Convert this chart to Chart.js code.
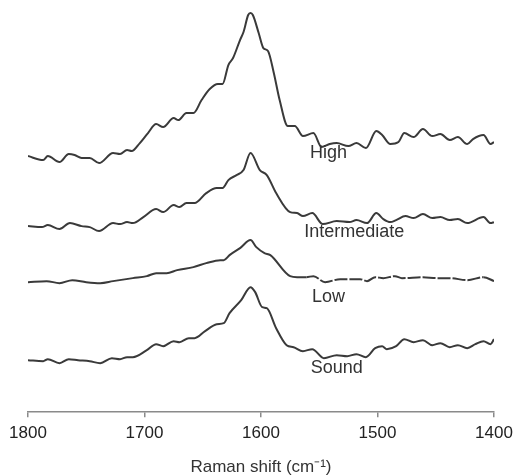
<!DOCTYPE html>
<html>
<head>
<meta charset="utf-8">
<script src="https://cdn.jsdelivr.net/npm/chart.js@4/dist/chart.umd.min.js"></script>
<style>
  html, body { margin: 0; padding: 0; background: #fff; }
  #wrap { width: 516px; height: 475px; }
</style>
</head>
<body>
<div id="wrap"><canvas id="raman"></canvas></div>
<script>
// spectra: Raman shift (cm-1) and stacked intensity (a.u.)
const highShift = [1800,1787,1783,1773,1765,1760,1754,1747,1739,1727,1721,1715,1711,1704,1697,1690,1684,1675,1671,1664,1658,1651,1644,1637,1633,1628,1624,1618,1615,1611,1609,1607,1602,1598,1594,1589,1584,1577,1571,1564,1555,1548,1541,1535,1525,1518,1510,1501,1496,1489,1482,1477,1469,1461,1453,1446,1438,1431,1423,1418,1409,1403,1400]
const highInt   = [256,252,256,250,258,257,254,254,249,259,258,262,261,269,279,288,285,294,292,299,299,312,323,328,328,347,354,372,380,397,399,397,379,364,361,339,312,286,286,276,279,265,268,269,266,269,264,281,277,268,270,279,275,283,276,278,272,275,268,273,277,268,270]

const interShift = [1800,1788,1783,1773,1764,1754,1747,1739,1727,1721,1715,1710,1701,1690,1684,1675,1670,1664,1657,1647,1638,1633,1628,1621,1615,1609,1601,1595,1587,1575,1569,1564,1556,1547,1535,1524,1518,1509,1501,1495,1489,1484,1476,1469,1461,1453,1446,1438,1431,1423,1409,1403,1400]
const interInt   = [186,185,187,183,189,186,185,181,189,188,190,189,195,203,200,207,205,209,209,219,224,224,232,237,242,259,242,237,219,200,199,196,199,188,191,190,192,189,199,193,190,192,196,194,198,194,195,192,193,189,195,189,190]

const lowShift = [1800,1784,1773,1762,1750,1738,1727,1710,1698,1690,1681,1672,1658,1647,1635,1632,1627,1618,1609,1604,1597,1592,1575,1569,1561,1555,1545,1532,1515,1509,1502,1495,1485,1479,1461,1449,1438,1423,1409,1400]
const lowInt   = [130,131,129,132,130,129,131,134,136,139,139,142,145,149,152,152,157,164,172,165,159,157,136,135,135,136,130,133,133,131,135,134,136,134,135,134,134,132,135,131]

const soundShift = [1800,1787,1783,1773,1765,1757,1747,1738,1728,1721,1715,1710,1698,1690,1684,1675,1670,1662,1657,1648,1638,1632,1627,1617,1609,1605,1599,1595,1587,1578,1572,1564,1556,1546,1535,1526,1518,1510,1502,1496,1492,1484,1477,1469,1461,1453,1446,1438,1431,1423,1416,1409,1403,1400]
const soundInt   = [52,51,53,49,53,52,51,49,54,53,55,55,62,68,66,71,70,74,74,81,88,89,99,112,125,120,105,104,84,67,65,61,63,54,57,56,58,55,64,66,63,66,73,70,72,67,69,65,67,64,68,71,68,73]

// curve names and where their captions sit
const curveNames = ['High', 'Intermediate', 'Low', 'Sound']
const labelShift = [1542, 1520, 1542, 1535]
const labelLevel = [259, 180, 115, 44]

const xTicks = [1800, 1700, 1600, 1500, 1400]

const ink = '#3a3a3a'
const font = 'Liberation Sans, Arial, Helvetica, sans-serif'

function pairs(xs, ys) {
  return xs.map((x, i) => ({ x: x, y: ys[i] }))
}

function lineSet(name, xs, ys) {
  return {
    label: name,
    data: pairs(xs, ys),
    borderColor: ink,
    borderWidth: 2,
    pointRadius: 0,
    fill: false,
    cubicInterpolationMode: 'monotone'
  }
}

const lowSet = lineSet('Low', lowShift, lowInt)
// the Low trace prints broken up on its flat right-hand part
lowSet.segment = {
  borderDash: ctx => (ctx.p0.parsed.x <= 1566 && ctx.p1.parsed.x >= 1409) ? [13, 2] : undefined
}

// writes the group names next to their spectra
const curveLabels = {
  id: 'curveLabels',
  afterDatasetsDraw(chart) {
    const c = chart.ctx
    const xs = chart.scales.x
    const ys = chart.scales.y
    c.save()
    c.font = '18px ' + font
    c.fillStyle = '#333'
    c.textAlign = 'center'
    c.textBaseline = 'middle'
    curveNames.forEach((name, i) => {
      c.fillText(name, xs.getPixelForValue(labelShift[i]), ys.getPixelForValue(labelLevel[i]))
    })
    c.restore()
  }
}

new Chart(document.getElementById('raman'), {
  type: 'line',
  data: {
    datasets: [
      lineSet('High', highShift, highInt),
      lineSet('Intermediate', interShift, interInt),
      lowSet,
      lineSet('Sound', soundShift, soundInt)
    ]
  },
  options: {
    responsive: true,
    maintainAspectRatio: false,
    animation: false,
    layout: { padding: { left: 28, right: 22, top: 5, bottom: -3 } },
    plugins: {
      legend: { display: false },
      tooltip: { enabled: false }
    },
    scales: {
      x: {
        type: 'linear',
        reverse: true,
        min: 1400,
        max: 1800,
        afterBuildTicks: axis => { axis.ticks = xTicks.map(v => ({ value: v })) },
        // let the layout padding alone decide where the axis ends
        afterFit: axis => { axis.paddingLeft = 0; axis.paddingRight = 0 },
        grid: { display: true, drawOnChartArea: false, tickLength: 5, color: '#8a8a8a', lineWidth: 1.5 },
        border: { display: true, color: '#8a8a8a', width: 1.5 },
        ticks: {
          color: '#222',
          padding: 6,
          maxRotation: 0,
          font: { size: 17, family: font },
          callback: v => String(v)
        },
        title: {
          display: true,
          text: 'Raman shift (cm\u207B\u00B9)',
          color: '#333',
          padding: { top: 8, bottom: 0 },
          font: { size: 17, family: font }
        }
      },
      y: {
        display: false,
        min: 0,
        max: 407
      }
    }
  },
  plugins: [curveLabels]
})
</script>
</body>
</html>
